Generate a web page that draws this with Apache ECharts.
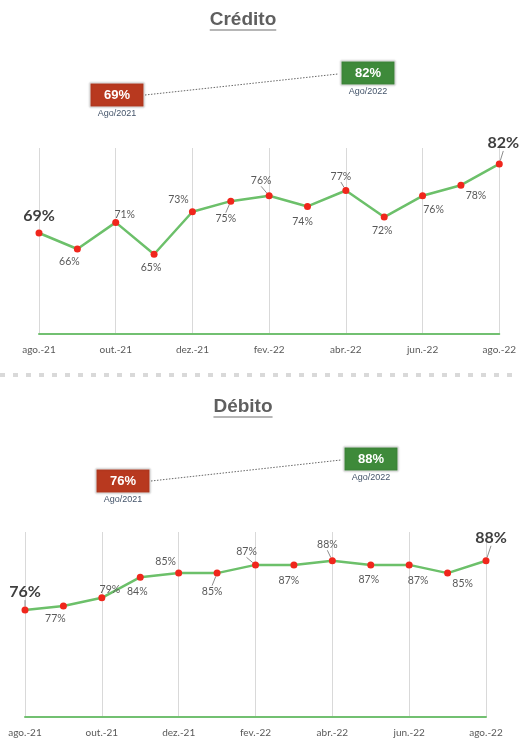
<!DOCTYPE html>
<html>
<head>
<meta charset="utf-8">
<script src="https://cdn.jsdelivr.net/npm/echarts@6/dist/echarts.min.js"></script>
<style>
  html, body { margin: 0; padding: 0; background: #fff; }
  #chart { width: 519px; height: 738px; }
</style>
</head>
<body>
<div id="chart"></div>
<script>
// Monthly categories (Aug 2021 – Aug 2022)
const months = ['ago.-21', 'set.-21', 'out.-21', 'nov.-21', 'dez.-21', 'jan.-22', 'fev.-22',
                'mar.-22', 'abr.-22', 'mai.-22', 'jun.-22', 'jul.-22', 'ago.-22'];

// Share (%) per month
const creditoValues = [69, 66, 71, 65, 73, 75, 76, 74, 77, 72, 76, 78, 82];
const debitoValues  = [76, 77, 79, 84, 85, 85, 87, 87, 88, 87, 87, 85, 88];

const panelTitles = ['Crédito', 'Débito'];
const periodLabels = ['Ago/2021', 'Ago/2022'];

// Label placement around each point: [dx, dy, leader line]
const creditoLabelLayout = [
  [0, -17, 0], [-8, 13, 0], [9, -8, 0], [-3, 13, 0], [-14, -12, 0], [-5, 17, 1], [-8, -15, 1],
  [-5, 15, 0], [-5, -14, 1], [-2, 14, 0], [11, 14, 0], [15, 10, 0], [4, -21, 1]
];
const debitoLabelLayout = [
  [0, -18, 1], [-8, 13, 0], [8, -8, 0], [-3, 14, 0], [-13, -12, 0], [-5, 18, 1], [-9, -13, 1],
  [-5, 16, 0], [-5, -16, 1], [-2, 15, 0], [9, 16, 0], [15, 10, 0], [5, -23, 1]
];

const FONT = 'Lato, "Liberation Sans", sans-serif';
const TITLE_FONT = 'bold 19px "Liberation Sans", Arial, sans-serif';
const RED = '#b8391f';
const GREEN = '#3e8a3a';

// First and last points get the large bold label
function buildData(values, layout) {
  const last = values.length - 1;
  return values.map((v, i) => {
    const big = (i === 0 || i === last);
    return {
      value: v,
      label: {
        fontSize: big ? 16 : 10.5,
        fontWeight: big ? 'bold' : 'normal',
        color: big ? '#3f3f3f' : '#595959'
      },
      labelLine: { show: !!layout[i][2] }
    };
  });
}

function lineSeries(idx, values, layout) {
  return {
    type: 'line',
    xAxisIndex: idx,
    yAxisIndex: idx,
    data: buildData(values, layout),
    symbol: 'circle',
    symbolSize: 7,
    itemStyle: { color: '#f0261c' },
    lineStyle: { color: '#6cc06a', width: 2.5 },
    z: 3,
    label: {
      show: true,
      position: 'inside',
      fontFamily: FONT,
      formatter: p => p.value + '%'
    },
    labelLine: {
      show: false,
      length2: 0,
      lineStyle: { color: '#8c8c8c', width: 1 }
    },
    labelLayout: p => ({ dx: layout[p.dataIndex][0], dy: layout[p.dataIndex][1] })
  };
}

function xAxis(idx) {
  return {
    type: 'category',
    gridIndex: idx,
    data: months,
    boundaryGap: false,
    axisLine: { lineStyle: { color: '#72c071', width: 2 } },
    axisTick: { show: false },
    axisLabel: { interval: 1, color: '#595959', fontSize: 10, fontFamily: FONT, margin: 11 },
    splitLine: { show: true, interval: 1, lineStyle: { color: '#d9d9d9', width: 1 } }
  };
}

function yAxis(idx, max) {
  return {
    type: 'value',
    gridIndex: idx,
    min: 50,
    max: max,
    show: false,
    splitLine: { show: false }
  };
}

// Summary boxes comparing the first and last month, joined by a dotted line
function summary(values, redBox, greenBox) {
  const first = values[0], last = values[values.length - 1];
  const els = [{
    type: 'line',
    shape: { x1: redBox[0] + 55, y1: redBox[1] + 12, x2: greenBox[0] - 3, y2: greenBox[1] + 13 },
    style: { stroke: '#666', lineWidth: 1, lineDash: [1.5, 1.5] }
  }];
  [[redBox, RED, first, periodLabels[0]], [greenBox, GREEN, last, periodLabels[1]]].forEach(([b, c, v, t]) => {
    els.push({
      type: 'rect',
      shape: { x: b[0], y: b[1], width: 54, height: 24 },
      style: { fill: c, stroke: '#e6e6e6', lineWidth: 1, shadowBlur: 2, shadowColor: 'rgba(0,0,0,0.25)' }
    });
    els.push({
      type: 'text',
      x: b[0] + 27, y: b[1] + 12,
      style: { text: v + '%', fill: '#fff', font: 'bold 13px "Liberation Sans", Arial, sans-serif', align: 'center', verticalAlign: 'middle' }
    });
    els.push({
      type: 'text',
      x: b[0] + 27, y: b[1] + 31,
      style: { text: t, fill: '#44546a', font: '9px "Liberation Sans", Arial, sans-serif', align: 'center', verticalAlign: 'middle' }
    });
  });
  return els;
}

// Panel title with an underline sized to the text
const measure = document.createElement('canvas').getContext('2d');
measure.font = TITLE_FONT;
function panelTitle(text, cy) {
  const w = measure.measureText(text).width;
  return [
    {
      type: 'text', x: 243, y: cy,
      style: { text: text, fill: '#5f5f5f', font: TITLE_FONT, align: 'center', verticalAlign: 'middle' }
    },
    {
      type: 'line',
      shape: { x1: 243 - w / 2, y1: cy + 10, x2: 243 + w / 2, y2: cy + 10 },
      style: { stroke: '#6f6f6f', lineWidth: 1.2 }
    }
  ];
}

const chart = echarts.init(document.getElementById('chart'), null, { renderer: 'canvas' });

chart.setOption({
  animation: false,
  grid: [
    { left: 39, top: 148, width: 461, height: 186 },
    { left: 25, top: 532, width: 461, height: 187 }
  ],
  xAxis: [xAxis(0), xAxis(1)],
  yAxis: [yAxis(0, 85), yAxis(1, 95)],
  series: [
    lineSeries(0, creditoValues, creditoLabelLayout),
    lineSeries(1, debitoValues, debitoLabelLayout)
  ],
  graphic: [
    ...panelTitle(panelTitles[0], 20),
    ...panelTitle(panelTitles[1], 407),
    // section separator
    { type: 'line', shape: { x1: 0, y1: 375, x2: 519, y2: 375 }, style: { stroke: '#d9d9d9', lineWidth: 4, lineDash: [5, 8] } },
    ...summary(creditoValues, [90, 83], [341, 61]),
    ...summary(debitoValues, [96, 469], [344, 447])
  ]
});
</script>
</body>
</html>
